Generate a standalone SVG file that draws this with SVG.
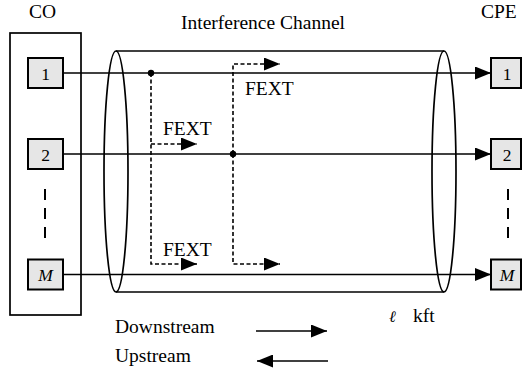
<svg xmlns="http://www.w3.org/2000/svg" width="522" height="368" viewBox="0 0 522 368">
<style>
text{font-family:"Liberation Serif","Times New Roman",serif;fill:#000}
.lbl{font-size:19.5px}
.num{font-size:17.5px;text-anchor:middle}
.box{fill:#e6e6e6;stroke:#000;stroke-width:2}
.ln{stroke:#000;stroke-width:1.7;fill:none}
.dash{stroke:#000;stroke-width:1.6;fill:none;stroke-dasharray:4,2.5}
.vd{stroke:#000;stroke-width:2;stroke-dasharray:11,8;fill:none}
</style>
<defs>
<marker id="ah" markerUnits="userSpaceOnUse" markerWidth="17" markerHeight="13" refX="16" refY="6.5" orient="auto" viewBox="0 0 17 13">
<path d="M0,0 L16,6.5 L0,13 z" fill="#000"/>
</marker>
</defs>
<g id="labels">
<text class="lbl" x="29" y="18">CO</text>
<text class="lbl" x="181" y="29">Interference Channel</text>
<text class="lbl" x="481" y="18">CPE</text>
</g>
<g id="co">
<rect x="10" y="33" width="71" height="282" fill="none" stroke="#000" stroke-width="1.7"/>
<line class="vd" x1="45" y1="189" x2="45" y2="240"/>
</g>
<g id="cylinder">
<ellipse cx="116" cy="171.5" rx="12" ry="120.5" class="ln"/>
<ellipse cx="444" cy="171.5" rx="12" ry="120.5" class="ln"/>
<line class="ln" x1="116" y1="51" x2="444" y2="51"/>
<line class="ln" x1="116" y1="292" x2="444" y2="292"/>
</g>
<g id="connectors">
<line class="ln" x1="63" y1="73" x2="491" y2="73" marker-end="url(#ah)"/>
<line class="ln" x1="63" y1="154" x2="491" y2="154" marker-end="url(#ah)"/>
<line class="ln" x1="63" y1="274.5" x2="491" y2="274.5" marker-end="url(#ah)"/>
<path class="dash" d="M151,73 V264 H197" marker-end="url(#ah)"/>
<path class="dash" d="M151,144 H197" marker-end="url(#ah)"/>
<path class="dash" d="M233,154 V64 H280" marker-end="url(#ah)"/>
<path class="dash" d="M233,154 V264 H280" marker-end="url(#ah)"/>
<circle cx="151" cy="73" r="3.2" fill="#000"/>
<circle cx="233" cy="154" r="3.2" fill="#000"/>
<line class="ln" x1="256" y1="331" x2="327" y2="331" marker-end="url(#ah)"/>
<line class="ln" x1="328" y1="361" x2="257" y2="361" marker-end="url(#ah)"/>
</g>
<g id="fext-labels">
<text class="lbl" x="245" y="95">FEXT</text>
<text class="lbl" x="163" y="135">FEXT</text>
<text class="lbl" x="163" y="256">FEXT</text>
</g>
<g id="co-1"><rect class="box" x="28" y="58" width="35" height="30"/><text class="num" x="45.5" y="79.5">1</text></g>
<g id="co-2"><rect class="box" x="28" y="139" width="35" height="30"/><text class="num" x="45.5" y="160.5">2</text></g>
<g id="co-M"><rect class="box" x="28" y="259.5" width="35" height="30"/><text class="num" x="45.5" y="281" font-style="italic">M</text></g>
<g id="cpe-1"><rect class="box" x="491" y="58" width="30" height="30"/><text class="num" x="507" y="79.5">1</text></g>
<g id="cpe-2"><rect class="box" x="491" y="139" width="30" height="30"/><text class="num" x="507" y="160.5">2</text></g>
<g id="cpe-M"><rect class="box" x="491" y="259.5" width="30" height="30"/><text class="num" x="507" y="281" font-style="italic">M</text></g>
<g id="cpe-dots"><line class="vd" x1="508" y1="189" x2="508" y2="240"/></g>
<g id="legend">
<text class="lbl" x="115" y="333">Downstream</text>
<text class="lbl" x="115" y="362">Upstream</text>
<text x="389" y="322" font-size="16" font-style="italic">ℓ</text>
<text class="lbl" x="413" y="322">kft</text>
</g>
</svg>
